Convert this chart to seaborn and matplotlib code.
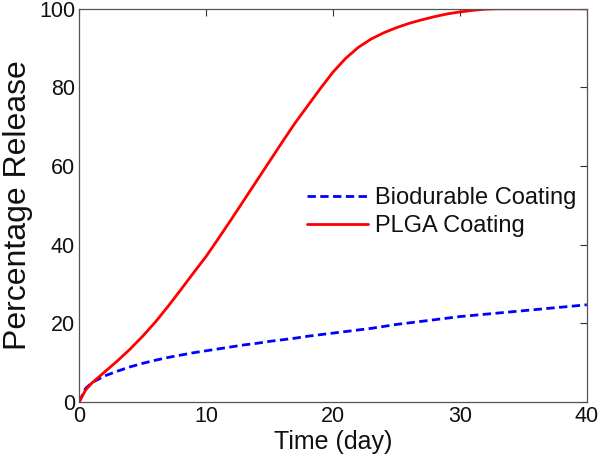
import pandas as pd
import matplotlib
matplotlib.use('Agg')
import matplotlib.pyplot as plt
import seaborn as sb

# values
days = [0, 0.5] + list(range(1, 41))
plga = [0, 3.0, 4.8, 7.6, 10.4, 13.4, 16.7, 20.3, 24.3, 28.5, 32.8, 37.0,
        41.7, 46.5, 51.4, 56.3, 61.2, 66.1, 70.9, 75.3, 79.7, 83.9,
        87.4, 90.2, 92.3, 93.9, 95.2, 96.3, 97.2, 98.0, 98.7, 99.2,
        99.6, 99.9, 100, 100, 100, 100, 100, 100, 100, 100]
biodurable = [0, 3.4, 4.9, 6.6, 7.8, 8.9, 9.8, 10.6, 11.3, 11.9, 12.5, 13.0,
              13.5, 14.0, 14.5, 14.9, 15.4, 15.8, 16.2, 16.7, 17.1, 17.5,
              17.9, 18.3, 18.7, 19.2, 19.7, 20.1, 20.5, 20.9, 21.3, 21.7,
              22.0, 22.3, 22.6, 22.9, 23.2, 23.5, 23.8, 24.1, 24.4, 24.7]

df = pd.DataFrame({'day': days, 'Biodurable Coating': biodurable, 'PLGA Coating': plga})

sb.set_style('white')
plt.rcParams['font.family'] = ['Liberation Sans', 'DejaVu Sans']

fig = plt.figure(figsize=(6, 4.63), dpi=100)
ax = fig.add_axes([0.132, 0.132, 0.846, 0.849])

sb.lineplot(x=df['day'], y=df['Biodurable Coating'], ax=ax, color='#0000ff',
            linewidth=2.0, label='Biodurable Coating')
ax.lines[-1].set_dashes([3, 1.6])
sb.lineplot(x=df['day'], y=df['PLGA Coating'], ax=ax, color='#ff0000',
            linewidth=2.0, label='PLGA Coating')

ax.set_xlim(0, 40)
ax.set_ylim(0, 100)
ax.set_xticks([0, 10, 20, 30, 40])
ax.set_yticks([0, 20, 40, 60, 80, 100])
ax.tick_params(direction='in', length=5, width=0.8, labelsize=15.5, color='#333333',
               labelcolor='#111111', top=True, right=True, pad=3)
for s in ax.spines.values():
    s.set_color('#555555')
    s.set_linewidth(0.9)

ax.set_xlabel('Time (day)', fontsize=18, labelpad=2, color='#111111')
ax.set_ylabel('Percentage Release', fontsize=23, labelpad=4, color='#111111')

leg = ax.legend(loc='upper left', bbox_to_anchor=(0.43, 0.57), frameon=False, fontsize=17,
                handlelength=2.6, handletextpad=0.3, labelspacing=0.25, borderaxespad=0)
for t in leg.get_texts():
    t.set_color('#111111')

fig.savefig('out.png', dpi=100)
